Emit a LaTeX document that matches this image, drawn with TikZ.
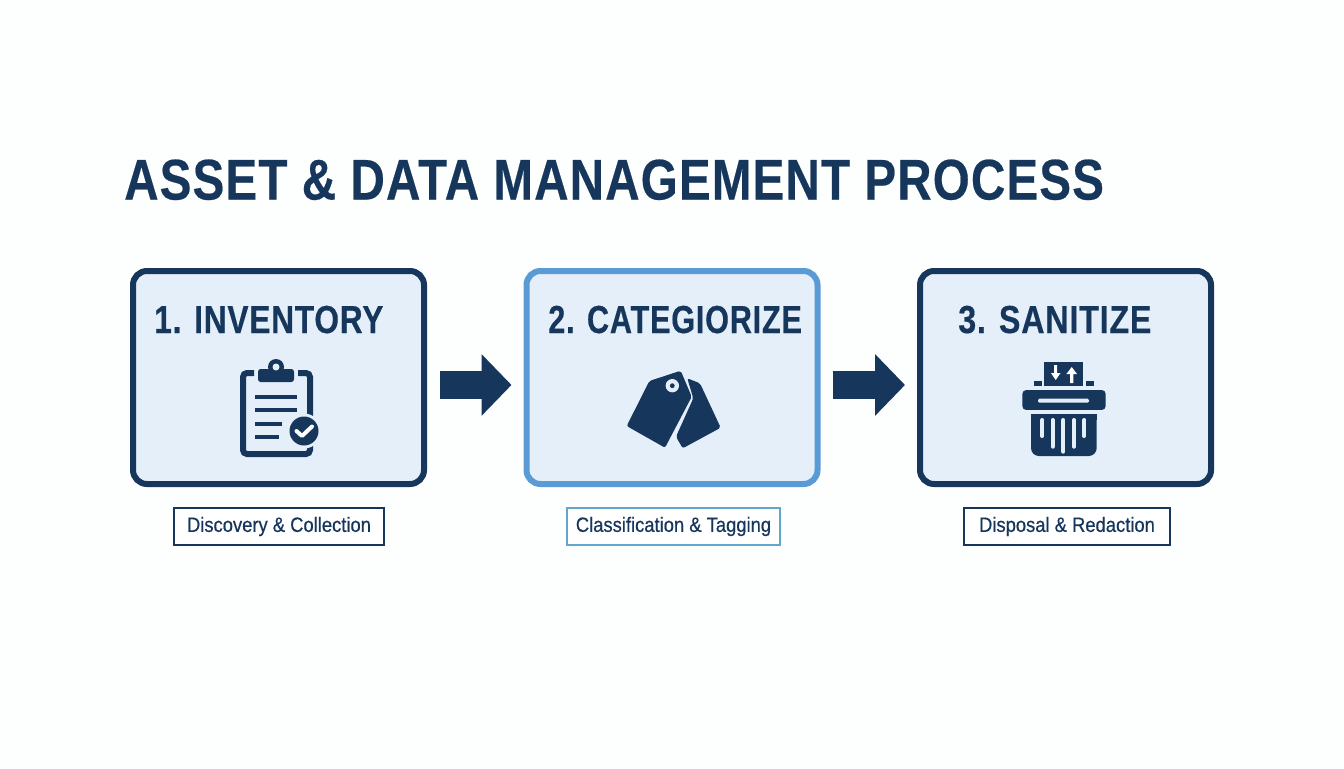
\documentclass[tikz,border=0pt]{standalone}
\usepackage{fontspec}
\setmainfont{Liberation Sans}
\usetikzlibrary{arrows.meta}
\definecolor{navy}{HTML}{16365C}
\definecolor{pale}{HTML}{E4EFFA}
\definecolor{midblue}{HTML}{5B9BD5}
\definecolor{capblue}{HTML}{62A6CF}
\definecolor{paper}{HTML}{FDFEFE}
\newcommand{\squeeze}[2]{\scalebox{#1}[1]{#2}}
\newfontfamily\spacedbold[BoldFont={Liberation Sans Bold},BoldFeatures={FakeBold=0.4},LetterSpace=2.5,WordSpace=1.0]{Liberation Sans}
\newfontfamily\capfont[FakeBold=0.5]{Liberation Sans}
\tikzset{
  x=0.75pt,y=-0.75pt,
  stagebox/.style={draw=navy,fill=pale,line width=4.5pt,rounded corners=10.5pt,minimum width=218.25pt,minimum height=159.75pt,inner sep=0pt,outer sep=0pt},
  stageblue/.style={stagebox,draw=midblue},
  capbox/.style={draw=navy,fill=white,line width=1.3pt,minimum height=27.75pt,inner sep=0pt,outer sep=0pt,text=navy,font=\fontsize{15.5}{18}\selectfont\capfont},
  stagetitle/.style={anchor=base west,inner sep=0pt,text=navy,font=\fontsize{29.3}{34}\spacedbold\bfseries\selectfont},
  bigarrow/.style={draw=navy,line width=21.5pt,-{Triangle[length=22.5pt,width=45pt]}},
}
\begin{document}
\begin{tikzpicture}
\useasboundingbox (0,0) rectangle (1344,768);
\fill[paper] (0,0) rectangle (1344,768);

\node[anchor=base west,inner sep=0pt,text=navy,font=\fontsize{43}{50}\spacedbold\bfseries\selectfont] (title) at (124,199.5) {\squeeze{0.829}{ASSET \& DATA MANAGEMENT PROCESS}};

\node[stagebox] (b1) at (278.5,377.5) {};
\node[stageblue] (b2) at (672,377.5) {};
\node[stagebox] (b3) at (1065.5,377.5) {};

\node[stagetitle] (t1) at (154,333) {\squeeze{0.81}{1. INVENTORY}};
\node[stagetitle] (t2) at (548,333) {\squeeze{0.785}{2. CATEGIORIZE}};
\node[stagetitle] (t3) at (958,333) {\squeeze{0.825}{3. SANITIZE}};

\node[capbox,minimum width=157.5pt] (c1) at (279,526.5) {\raisebox{-1.2pt}{\squeeze{0.89}{Discovery \& Collection}}};
\node[capbox,minimum width=160pt,draw=capblue] (c2) at (673.5,526.5) {\raisebox{-1.2pt}{\squeeze{0.89}{Classification \& Tagging}}};
\node[capbox,minimum width=155pt] (c3) at (1067,526.5) {\raisebox{-1.2pt}{\squeeze{0.89}{Disposal \& Redaction}}};

\draw[bigarrow,shorten <=12pt,shorten >=11.25pt] ([yshift=-5.6pt]b1.east) -- ([yshift=-5.6pt]b2.west);
\draw[bigarrow,shorten <=11.25pt,shorten >=11.25pt] ([yshift=-5.6pt]b2.east) -- ([yshift=-5.6pt]b3.west);

% clipboard icon
\draw[navy,line width=4.5pt,rounded corners=3pt] (254,373) -- (243,373) -- (243,454) -- (310,454) -- (310,373) -- (298,373);
\fill[navy,rounded corners=2pt] (258,369) rectangle (294,382);
\fill[navy] (276,367) circle[radius=8];
\fill[pale] (276,367) circle[radius=3.5];
\foreach \yy/\xe in {397/297,410/297,424/282,437/279}{
  \fill[navy] (255,\yy-2.4) rectangle (\xe,\yy+2.4);
}
\fill[pale] (304,431) circle[radius=17.5];
\fill[navy] (304,431) circle[radius=14.5];
\draw[white,line width=3pt,line join=round,line cap=round] (296.5,431) -- (302,436) -- (312,426.5);

% tags icon
\fill[navy,rounded corners=1.5pt] (687.3,378.3) -- (700,383.3) -- (720.7,427.7) -- (682.7,448.3) -- (676,436.7) -- (693.3,398.3) -- cycle;
\fill[navy,rounded corners=1.5pt] (649.3,381) -- (680.7,370.7) -- (691.7,396.7) -- (665,447.7) -- (626.7,426) -- cycle;
\fill[pale] (672.3,385.7) circle[radius=6.7];
\fill[navy] (672.3,385.7) circle[radius=2.4];

% shredder icon
\fill[navy] (1044.3,361.7) rectangle (1083.3,386);
\fill[navy] (1033.5,380.7) rectangle (1042,386);
\fill[navy] (1086,380.7) rectangle (1094,386);
\fill[white] (1054.2,365) -- (1057.2,365) -- (1057.2,373) -- (1060.5,373) -- (1055.7,380) -- (1050.9,373) -- (1054.2,373) -- cycle;
\fill[white] (1070,383) -- (1073.4,383) -- (1073.4,374) -- (1077,374) -- (1071.7,367) -- (1066.4,374) -- (1070,374) -- cycle;
\fill[navy,rounded corners=3pt] (1022.3,390) rectangle (1105.7,410);
\fill[pale,rounded corners=1pt] (1038,398.7) rectangle (1089,402.7);
\fill[navy,rounded corners=6pt] (1031,408) -- (1031,456) -- (1096.7,456) -- (1096.7,408) -- cycle;
\fill[navy] (1031,408) rectangle (1096.7,420);
\fill[pale] (1020,410) rectangle (1108,414.3);
\foreach \xx/\ye in {1042.3/436,1052.7/446.7,1063.3/451.7,1074/446.7,1084.3/436}{
  \draw[pale,line width=3pt,line cap=round] (\xx,420) -- (\xx,\ye);
}
\end{tikzpicture}
\end{document}
